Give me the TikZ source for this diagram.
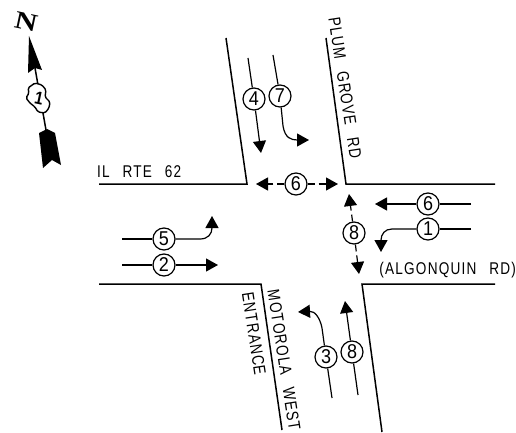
\documentclass[tikz,border=0pt]{standalone}
\usepackage{fontspec}
\setmainfont{Liberation Sans}
\newfontfamily\cadfont[LetterSpace=7,FakeStretch=0.8,WordSpace=2.6]{Liberation Sans}
\newfontfamily\sigfont[FakeStretch=0.9]{Liberation Sans}
\newfontfamily\northfont[FakeStretch=1.25]{Liberation Serif}
\newfontfamily\shieldfont[FakeStretch=0.85]{Liberation Sans}
\usetikzlibrary{arrows.meta}
\tikzset{
  x=1pt,y=-1pt,
  road/.style={line width=1.5pt,black},
  conn/.style={line width=1.2pt,black},
  arr/.style={conn,-{Triangle[length=12pt,width=13pt]}},
  dasharr/.style={arr,dash pattern=on 7pt off 4pt},
  sig/.style={circle,draw=black,line width=1.2pt,fill=white,minimum size=22pt,inner sep=0pt,font=\sigfont\fontsize{20}{20}\selectfont},
  lab/.style={font=\cadfont\fontsize{17}{17}\selectfont,inner sep=0pt},
}
\begin{document}
\begin{tikzpicture}
\useasboundingbox (0,0) rectangle (516,433);
% roads
\draw[road] (226,38) -- (247,184) -- (99,184);
\draw[road] (326,38) -- (346,184) -- (495,184);
\draw[road] (99,284) -- (261,284) -- (282,430);
\draw[road] (495,284) -- (362,284) -- (382,432);
% signal nodes
\node[sig] (c4) at (254,99) {4};
\node[sig] (c7) at (280,96) {7};
\node[sig] (c6a) at (296,184) {6};
\node[sig] (c8a) at (354,233) {8};
\node[sig] (c6b) at (428,204) {6};
\node[sig] (c1) at (428,229) {1};
\node[sig] (c5) at (164,239) {5};
\node[sig] (c2) at (164,265) {2};
\node[sig] (c3) at (326,357) {3};
\node[sig] (c8b) at (352,352) {8};
% free ends
\coordinate (s4) at (248,58);  \coordinate (e4) at (261,153);
\coordinate (s7) at (273,55);  \coordinate (e7) at (309,140);
\coordinate (w6a) at (256,184); \coordinate (e6a) at (338,184);
\coordinate (n8a) at (349,194); \coordinate (s8a) at (359,274);
\coordinate (s6b) at (471,204); \coordinate (e6b) at (375,204);
\coordinate (s1) at (471,229); \coordinate (e1) at (381,252);
\coordinate (s5) at (122,239); \coordinate (e5) at (212,216);
\coordinate (s2) at (122,265); \coordinate (e2) at (218,265);
\coordinate (s3) at (332,398); \coordinate (e3) at (298,312);
\coordinate (s8b) at (358,395); \coordinate (e8b) at (345,301);
% connectors
\draw[conn] (s4) -- (c4); \draw[arr] (c4) -- (e4);
\draw[conn] (s7) -- (c7);
\draw[arr] (c7) -- (283,126) .. controls (285,138) and (291,140) .. (e7);
\draw[dasharr] (c6a) -- (w6a); \draw[dasharr] (c6a) -- (e6a);
\draw[dasharr] (c8a) -- (n8a); \draw[dasharr] (c8a) -- (s8a);
\draw[conn] (s6b) -- (c6b); \draw[arr] (c6b) -- (e6b);
\draw[conn] (s1) -- (c1);
\draw[arr] (c1) -- (392,229) .. controls (385,229) and (381,234) .. (e1);
\draw[conn] (s5) -- (c5);
\draw[arr] (c5) -- (200,239) .. controls (208,239) and (212,234) .. (e5);
\draw[conn] (s2) -- (c2); \draw[arr] (c2) -- (e2);
\draw[conn] (s3) -- (c3);
\draw[arr] (c3) -- (322,328) .. controls (320,318) and (315,311) .. (e3);
\draw[conn] (s8b) -- (c8b); \draw[arr] (c8b) -- (e8b);
% labels
\node[lab,rotate=-81.2] (tplum) at (345,88) {PLUM GROVE RD};
\node[lab,rotate=-81.2] (tmot) at (284,360) {MOTOROLA WEST};
\node[lab,rotate=-81.2] (tent) at (254,334) {ENTRANCE};
\node[lab,anchor=west] (til) at (97,172) {IL RTE 62};
\node[lab,anchor=east] (talg) at (516,270) {(ALGONQUIN RD)};
% north arrow
\draw[line width=1.5pt] (35,68) -- (46,130);
\fill (29,36) -- (42,70) -- (35,68) -- (28,73) -- cycle;
\fill (39,133) -- (47,129) -- (55,133) -- (61,165) -- (52,160) -- (43,168) -- cycle;
\draw[line width=1.4pt,fill=white,rounded corners=1.5pt] (28,88) -- (35,83) -- (42,85) -- (46,90) -- (45,97) -- (50,102) -- (49,108) -- (45,113) -- (38,112) -- (35,107) -- (30,103) -- (26,98) -- (29,93) -- cycle;
\node[font=\shieldfont\bfseries\fontsize{18}{18}\selectfont,rotate=-12,inner sep=0pt] (shield) at (39,98) {1};
\node[font=\northfont\bfseries\fontsize{25}{25}\selectfont,rotate=-12,inner sep=0pt] (north) at (26,22) {N};
\end{tikzpicture}
\end{document}
